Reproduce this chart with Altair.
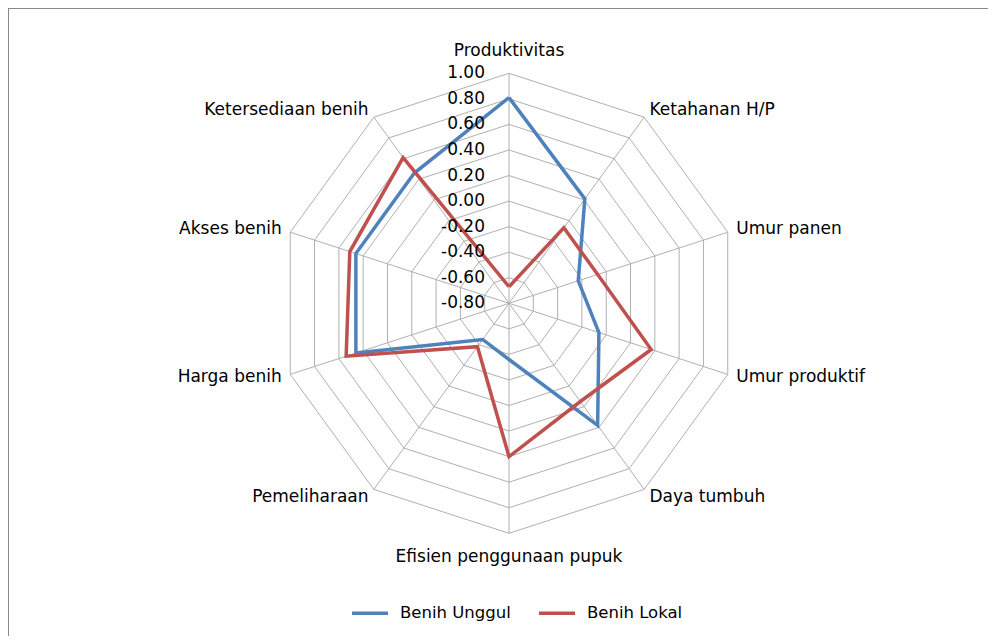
import altair as alt
import pandas as pd

# ---------------- data ----------------
categories = ["Produktivitas", "Ketahanan H/P", "Umur panen", "Umur produktif",
              "Daya tumbuh", "Efisien penggunaan pupuk", "Pemeliharaan",
              "Harga benih", "Akses benih", "Ketersediaan benih"]
benih_unggul = [0.81, 0.21, -0.23, -0.06, 0.38, -0.36, -0.45, 0.46, 0.46, 0.46]
benih_lokal = [-0.67, -0.07, -0.07, 0.37, 0.15, 0.40, -0.38, 0.54, 0.51, 0.61]
series_names = ["Benih Unggul", "Benih Lokal"]
series_colors = ["#4F81BD", "#C0504D"]
tick_values = [1.00, 0.80, 0.60, 0.40, 0.20, 0.00, -0.20, -0.40, -0.60, -0.80]
tick_labels = ["1.00", "0.80", "0.60", "0.40", "0.20", "0.00", "-0.20", "-0.40", "-0.60", "-0.80"]
axis_min = -0.80
axis_max = 1.00

# ---------------- layout ----------------
W, H = 980, 628
PX = 230 / (axis_max - axis_min)          # pixels per value unit
CX, CY = 501, 295.3                        # plot-area centre
xdom = [-CX / PX, (W - CX) / PX]
ydom = [-(H - CY) / PX, CY / PX]
FONT = "DejaVu Sans"
FS = 17
n = len(categories)

xs = alt.Scale(domain=xdom, nice=False, zero=False)
ys = alt.Scale(domain=ydom, nice=False, zero=False)
col_scale = alt.Scale(domain=series_names, range=series_colors)


def series_df(name, vals):
    return pd.DataFrame([{"series": name, "idx": i, "value": vals[i % n]}
                         for i in range(n + 1)])


grid_rows = []
for t in tick_values:
    if t == axis_min:
        continue
    for i in range(n + 1):
        grid_rows.append({"ring": t, "idx": i, "value": t})
grid_df = pd.DataFrame(grid_rows)
spoke_df = pd.DataFrame({"idx": list(range(n)), "value": [axis_max] * n})
cat_df = pd.DataFrame({"idx": list(range(n)), "label": categories})
tick_df = pd.DataFrame({"value": tick_values, "label": tick_labels})


def polar_calc(ch):
    return ch.transform_calculate(
        ang=f"datum.idx * 2 * PI / {n}",
        r=f"datum.value - ({axis_min})",
    ).transform_calculate(
        x="datum.r * sin(datum.ang)",
        y="datum.r * cos(datum.ang)",
    )


grid = polar_calc(alt.Chart(grid_df)).mark_line(
    color="#b0b0b0", strokeWidth=1
).encode(
    x=alt.X("x:Q", scale=xs, axis=None),
    y=alt.Y("y:Q", scale=ys, axis=None),
    detail="ring:N",
    order="idx:Q",
)

spokes = polar_calc(alt.Chart(spoke_df)).transform_calculate(
    x0="0", y0="0",
).mark_rule(color="#b0b0b0", strokeWidth=1).encode(
    x=alt.X("x0:Q", scale=xs, axis=None),
    y=alt.Y("y0:Q", scale=ys, axis=None),
    x2="x:Q",
    y2="y:Q",
)

legend = alt.Legend(
    title=None, orient="none", legendX=342, legendY=585, direction="horizontal",
    symbolType="stroke", symbolSize=1296, symbolStrokeWidth=3.5,
    labelFont=FONT, labelFontSize=16.5, labelColor="#000000",
    labelOffset=10, columnPadding=21, padding=0,
)


def series_layer(name, vals):
    return polar_calc(alt.Chart(series_df(name, vals))).mark_line(
        strokeWidth=3.5, strokeJoin="miter"
    ).encode(
        x=alt.X("x:Q", scale=xs, axis=None),
        y=alt.Y("y:Q", scale=ys, axis=None),
        color=alt.Color("series:N", scale=col_scale, legend=legend),
        order="idx:Q",
    )


line_u = series_layer(series_names[0], benih_unggul)
line_l = series_layer(series_names[1], benih_lokal)

ticks = alt.Chart(tick_df).transform_calculate(
    y=f"datum.value - ({axis_min})",
    x=f"{-24 / PX}",
).mark_text(align="right", baseline="middle", font=FONT, fontSize=FS,
            color="#000000").encode(
    x=alt.X("x:Q", scale=xs, axis=None),
    y=alt.Y("y:Q", scale=ys, axis=None),
    text="label:N",
)


def cat_layer(filt, align, lr):
    return alt.Chart(cat_df).transform_filter(filt).transform_calculate(
        ang=f"datum.idx * 2 * PI / {n}",
    ).transform_calculate(
        x=f"{lr} * sin(datum.ang)",
        y=f"{lr} * cos(datum.ang)",
    ).mark_text(align=align, baseline="middle", font=FONT, fontSize=FS,
                color="#000000").encode(
        x=alt.X("x:Q", scale=xs, axis=None),
        y=alt.Y("y:Q", scale=ys, axis=None),
        text="label:N",
    )


rmax = axis_max - axis_min
cat_top = cat_layer("datum.idx == 0", "center", rmax + 22 / PX)
cat_bot = cat_layer(f"datum.idx == {n // 2}", "center", rmax + 24 / PX)
cat_right = cat_layer(f"datum.idx > 0 && datum.idx < {n // 2}", "left", rmax + 9 / PX)
cat_left = cat_layer(f"datum.idx > {n // 2}", "right", rmax + 9 / PX)

frame_src = pd.DataFrame({"k": [0]})
frame_top = alt.Chart(frame_src).mark_rule(color="#8a8a8a", strokeWidth=2).encode(
    x=alt.value(0), x2=alt.value(W + 20), y=alt.value(0))
frame_left = alt.Chart(frame_src).mark_rule(color="#8a8a8a", strokeWidth=2).encode(
    x=alt.value(0), y=alt.value(0), y2=alt.value(H + 20))

chart = alt.layer(
    grid, spokes, line_u, line_l, ticks, cat_top, cat_bot, cat_right, cat_left,
    frame_top, frame_left,
).properties(
    width=W, height=H, padding=0, autosize=alt.AutoSizeParams(type="none"),
    background="white",
).configure_view(stroke=None)

chart.save("out.html", embed_options={"renderer": "svg", "actions": False})
